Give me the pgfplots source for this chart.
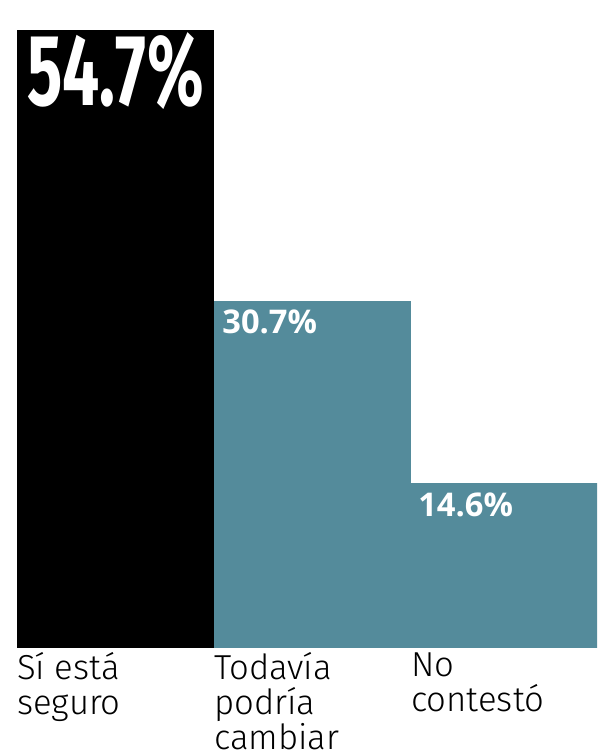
\documentclass[border=0pt]{standalone}
\usepackage{fontspec}
\usepackage{pgfplots}
\pgfplotsset{compat=1.18}
\setmainfont{Fira Sans}[UprightFont=* Light]
\newfontfamily\bigfont[FakeStretch=0.65]{Fira Sans}
\newfontfamily\valfont{Open Sans}
\definecolor{teal1}{RGB}{84,139,155}
\begin{document}
\begin{tikzpicture}[x=1pt,y=1pt]
\path[use as bounding box, clip] (0,-78) rectangle (447.75,486);
\begin{axis}[
  scale only axis,
  width=447.75pt, height=486pt,
  xmin={-0.5-17/197}, xmax={2.5-11/197},
  ymin=0, ymax=57.36,
  ybar, bar width=147.75pt,
  hide y axis,
  axis x line=none,
  clip=false,
]
\addplot[draw=none, fill=black, bar shift=0pt,
  nodes near coords={\bigfont\bfseries\pgfmathprintnumber[fixed,fixed zerofill,precision=1,assume math mode=true]{\pgfplotspointmeta}\%},
  every node near coord/.append style={anchor=north west, text=white, font=\fontsize{76}{76}\selectfont, xshift=-66.4pt, yshift=-1.5pt, inner sep=0pt}
] coordinates {(0,54.7)};
\addplot[draw=none, fill=teal1, bar shift=0pt,
  nodes near coords={\valfont\bfseries\pgfmathprintnumber[fixed,fixed zerofill,precision=1,assume math mode=true]{\pgfplotspointmeta}\%},
  every node near coord/.append style={anchor=north west, text=white, font=\fontsize{24.5}{24.5}\selectfont, xshift=-67.8pt, yshift=-6.5pt, inner sep=0pt}
] coordinates {(1,30.7)};
\addplot[draw=none, fill=teal1, bar shift=0pt,
  nodes near coords={\valfont\bfseries\pgfmathprintnumber[fixed,fixed zerofill,precision=1,assume math mode=true]{\pgfplotspointmeta}\%},
  every node near coord/.append style={anchor=north west, text=white, font=\fontsize{24.5}{24.5}\selectfont, xshift=-68.6pt, yshift=-7.5pt, inner sep=0pt}
] coordinates {(2,14.6)};
\end{axis}
\begin{axis}[
  scale only axis,
  width=447.75pt, height=486pt,
  xmin={-0.5-17/197}, xmax={2.5-11/197},
  ymin=0, ymax=57.36,
  hide y axis,
  axis x line*=bottom,
  x axis line style={draw=none},
  xtick={0,1,2},
  major tick length=0pt,
  xticklabels={{Sí está\\seguro},{Todavía\\podría\\cambiar},{No\\contestó}},
  xticklabel style={anchor=north west, align=left, xshift=-73.9pt, yshift=-3pt, font=\fontsize{26}{26.25}\selectfont, inner sep=0pt},
]
\addplot[draw=none] coordinates {(0,0)};
\end{axis}
\end{tikzpicture}
\end{document}
